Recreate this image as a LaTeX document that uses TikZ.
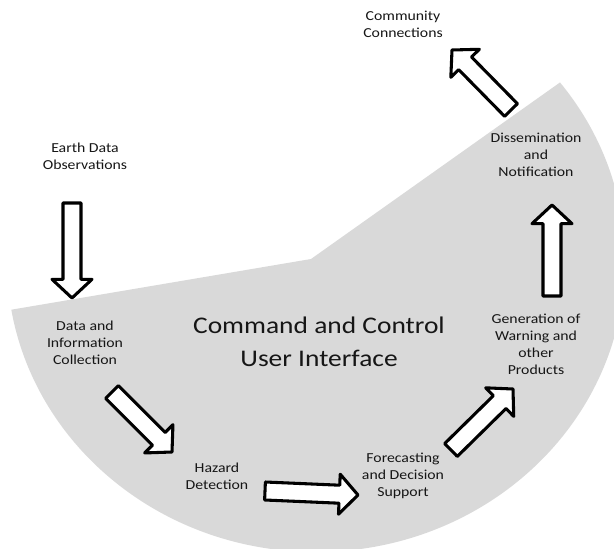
\documentclass[tikz,border=0pt]{standalone}
\usepackage{fontspec}
\newfontfamily\labelfont{Carlito}[FakeStretch=1.15]
\usetikzlibrary{calc}
\definecolor{panelgray}{RGB}{217,217,217}
\definecolor{inkgray}{RGB}{22,22,22}

\tikzset{every picture/.style={line width=0.75pt},
  txt/.style={align=center,inner sep=0.75pt,text=inkgray,font=\labelfont\fontsize{10.3}{12.75}\selectfont},
  bigtxt/.style={align=center,inner sep=0.75pt,text=inkgray,font=\labelfont\fontsize{17.9}{24.75}\selectfont},
  blockarrow/.style={draw=black,fill=white,line width=2.3pt,line join=round}}

% block arrow from #1 to #2
\newcommand{\blockarrow}[2]{%
  \coordinate (ba-c) at ($(#2)!14pt!(#1)$);
  \draw[blockarrow] ($(#1)!6.75pt!90:(#2)$) -- ($(ba-c)!6.75pt!-90:(#1)$) -- ($(ba-c)!15pt!-90:(#1)$) -- (#2) -- ($(ba-c)!15pt!90:(#1)$) -- ($(ba-c)!6.75pt!90:(#1)$) -- ($(#1)!6.75pt!-90:(#2)$) -- cycle ;}

\begin{document}
\begin{tikzpicture}[x=0.75pt,y=0.75pt,yscale=-1]
\useasboundingbox (0,0) rectangle (614,549);

%Shape: Partial Circle
\begin{scope}
\clip (-20,315) -- (311,259) -- (555,86) -- (700,-17) -- (700,600) -- (-20,600) -- cycle ;
\fill[panelgray] (316,261) ellipse [x radius=309, y radius=291] ;
\end{scope}

% Text Node
\draw (403,24) node (community) [txt] {Community\\Connections};
% Text Node
\draw (85,156) node (earth) [txt] {Earth Data\\Observations};
% Text Node
\draw (85,343) node (collect) [txt] {Data and\\Information\\Collection};
% Text Node
\draw (319,342) node (title) [bigtxt] {Command and Control\\User Interface};
% Text Node
\draw (217,476) node (hazard) [txt] {Hazard\\Detection};
% Text Node
\draw (403,476) node (forecast) [txt] {Forecasting\\and Decision\\Support};
% Text Node
\draw (536,344) node (warning) [txt] {Generation of\\Warning and\\other\\Products};
% Text Node
\draw (536,155) node (dissem) [txt] {Dissemination\\and\\Notification};

% arrow ends
\coordinate (earth-s) at (72,203) ;  \coordinate (earth-e) at (72,298) ;
\coordinate (collect-s) at (112,392) ;  \coordinate (collect-e) at (172,452) ;
\coordinate (hazard-s) at (265,491) ;  \coordinate (hazard-e) at (358,495) ;
\coordinate (forecast-s) at (451,450) ;  \coordinate (forecast-e) at (513,389) ;
\coordinate (warning-s) at (552,296) ;  \coordinate (warning-e) at (552,205) ;
\coordinate (dissem-s) at (511,110) ;  \coordinate (dissem-e) at (452,50) ;

%Shape: Block Arrow
\blockarrow{earth-s}{earth-e}
%Shape: Block Arrow
\blockarrow{collect-s}{collect-e}
%Shape: Block Arrow
\blockarrow{hazard-s}{hazard-e}
%Shape: Block Arrow
\blockarrow{forecast-s}{forecast-e}
%Shape: Block Arrow
\blockarrow{warning-s}{warning-e}
%Shape: Block Arrow
\blockarrow{dissem-s}{dissem-e}

\end{tikzpicture}
\end{document}
